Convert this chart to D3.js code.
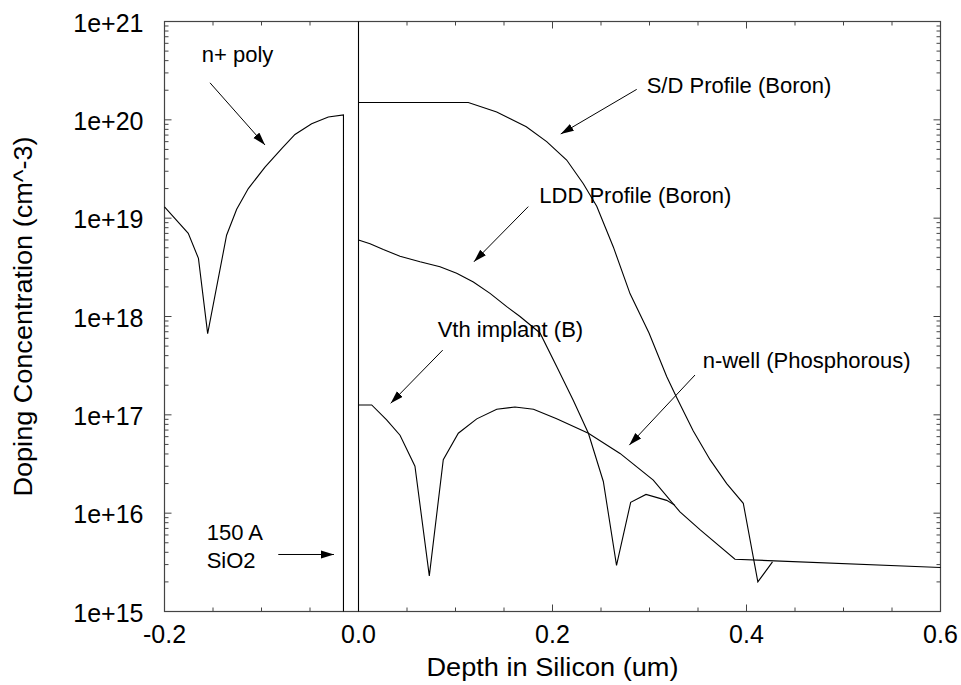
<!DOCTYPE html>
<html><head><meta charset="utf-8">
<script src="https://cdn.jsdelivr.net/npm/d3@7"></script>
<style>body{margin:0;background:#fff}svg{display:block}</style>
</head><body>
<svg id="chart" width="961" height="685"></svg>
<script>
// ---------- data ----------
const polyDepth = [-0.200, -0.1755, -0.165, -0.1555, -0.136, -0.1256, -0.1136, -0.0964, -0.0792, -0.0655, -0.0483, -0.0311, -0.0155, -0.0155];
const polyConc  = [1.3e19, 7.0e18, 3.9e18, 6.7e17, 6.7e18, 1.23e19, 2.0e19, 3.3e19, 5.1e19, 7.1e19, 9.1e19, 1.07e20, 1.12e20, 1e15];

const interfaceDepth = [0, 0];
const interfaceConc  = [1e15, 1e21];

const sdDepth = [0, 0.1132, 0.1425, 0.173, 0.194, 0.2146, 0.2318, 0.2456, 0.2627, 0.280, 0.2995, 0.3177, 0.328, 0.345, 0.3624, 0.3796, 0.3967, 0.4117, 0.4268];
const sdConc  = [1.5e20, 1.5e20, 1.2e20, 8.5e19, 6.0e19, 3.9e19, 2.24e19, 1.32e19, 5.1e18, 1.7e18, 6.8e17, 2.45e17, 1.5e17, 6.9e16, 3.5e16, 2.0e16, 1.26e16, 2.0e15, 3.2e15];

const lddDepth = [0, 0.0119, 0.0256, 0.0428, 0.0634, 0.084, 0.1012, 0.1184, 0.1356, 0.1528, 0.1665, 0.1871, 0.2043, 0.2215, 0.237, 0.2524, 0.266, 0.2806, 0.2964, 0.3177, 0.3263];
const lddConc  = [6.0e18, 5.5e18, 4.8e18, 4.1e18, 3.6e18, 3.2e18, 2.75e18, 2.24e18, 1.72e18, 1.26e18, 1.0e18, 6.8e17, 3.1e17, 1.4e17, 6.5e16, 2.1e16, 2.95e15, 1.29e16, 1.55e16, 1.35e16, 1.2e16];

const wellDepth = [0, 0.0136, 0.029, 0.0428, 0.0582, 0.073, 0.0874, 0.1029, 0.1219, 0.1425, 0.1613, 0.1804, 0.2043, 0.237, 0.2696, 0.3039, 0.3314, 0.352, 0.3881, 0.600];
const wellConc  = [1.26e17, 1.26e17, 8.9e16, 6.2e16, 3.0e16, 2.3e15, 3.5e16, 6.5e16, 9.1e16, 1.14e17, 1.2e17, 1.14e17, 9.1e16, 6.5e16, 4.05e16, 2.17e16, 1.03e16, 6.8e15, 3.4e15, 2.8e15];

const xTickValues = [-0.2, 0.0, 0.2, 0.4, 0.6];
const xTickLabels = ["-0.2", "0.0", "0.2", "0.4", "0.6"];
const yTickValues = [1e15, 1e16, 1e17, 1e18, 1e19, 1e20, 1e21];
const yTickLabels = ["1e+15", "1e+16", "1e+17", "1e+18", "1e+19", "1e+20", "1e+21"];

const xTitle = "Depth in Silicon (um)";
const yTitle = "Doping Concentration (cm^-3)";

// annotations: text lines at (depth, conc), arrow from -> to in data coords
const annotations = [
  {lines: ["n+ poly"], x: -0.1616, y: 3.9e20, ax1: -0.1531, ay1: 2.38e20, ax2: -0.0964, ay2: 5.55e19},
  {lines: ["150 A", "SiO2"], x: -0.1565, y: 5.3e15, ax1: -0.0827, ay1: 3.8e15, ax2: -0.0253, ay2: 3.8e15},
  {lines: ["S/D Profile (Boron)"], x: 0.2971, y: 1.89e20, ax1: 0.2868, ay1: 2.04e20, ax2: 0.2085, ay2: 7.18e19},
  {lines: ["LDD Profile (Boron)"], x: 0.1864, y: 1.44e19, ax1: 0.175, ay1: 1.31e19, ax2: 0.119, ay2: 3.6e18},
  {lines: ["Vth implant (B)"], x: 0.0816, y: 6.2e17, ax1: 0.0868, ay1: 4.55e17, ax2: 0.0332, ay2: 1.31e17},
  {lines: ["n-well (Phosphorous)"], x: 0.3548, y: 2.97e17, ax1: 0.3469, ay1: 2.54e17, ax2: 0.2792, ay2: 4.92e16}
];

// ---------- layout ----------
const padL = 164.5, padR = 940.5, padT = 21.5, padB = 611.5;
const font = "'Liberation Sans', Arial, Helvetica, sans-serif";

const svg = d3.select("#chart");
const x = d3.scaleLinear().domain([-0.2, 0.6]).range([padL, padR]);
const y = d3.scaleLog().domain([1e15, 1e21]).range([padB, padT]);

// arrow marker
svg.append("defs").append("marker")
  .attr("id", "arrow").attr("markerUnits", "userSpaceOnUse")
  .attr("markerWidth", 14).attr("markerHeight", 10)
  .attr("refX", 13).attr("refY", 4).attr("orient", "auto")
  .append("path").attr("d", "M0,0 L13,4 L0,8 Z").attr("fill", "#000");

// frame
const axisColor = "#444";
svg.append("rect").attr("x", padL).attr("y", padT).attr("width", padR - padL).attr("height", padB - padT)
  .attr("fill", "none").attr("stroke", axisColor).attr("stroke-width", 1.2);

// ticks (inward on all sides)
const xMinor = d3.range(0, 17).map(i => +(-0.2 + i * 0.05).toFixed(2));
const majLen = 7, minLen = 4;
const tickG = svg.append("g").attr("stroke", axisColor).attr("stroke-width", 1);
xMinor.forEach(v => {
  const isMaj = xTickValues.some(t => Math.abs(t - v) < 1e-9);
  const L = isMaj ? majLen : minLen;
  tickG.append("line").attr("x1", x(v)).attr("x2", x(v)).attr("y1", padB).attr("y2", padB - L);
  tickG.append("line").attr("x1", x(v)).attr("x2", x(v)).attr("y1", padT).attr("y2", padT + L);
});
const yAll = [];
for (let e = 15; e < 21; e++) for (let m = 1; m < 10; m++) yAll.push(m * Math.pow(10, e));
yAll.push(1e21);
yAll.forEach(v => {
  const isMaj = Math.abs(Math.log10(v) - Math.round(Math.log10(v))) < 1e-9;
  const L = isMaj ? majLen : minLen;
  tickG.append("line").attr("x1", padL).attr("x2", padL + L).attr("y1", y(v)).attr("y2", y(v));
  tickG.append("line").attr("x1", padR).attr("x2", padR - L).attr("y1", y(v)).attr("y2", y(v));
});

// tick labels
svg.append("g").selectAll("text").data(xTickValues).join("text")
  .attr("x", d => x(d)).attr("y", padB + 31)
  .attr("text-anchor", "middle").attr("font-family", font).attr("font-size", 25).attr("fill", "#000")
  .text((d, i) => xTickLabels[i]);
svg.append("g").selectAll("text").data(yTickValues).join("text")
  .attr("x", padL - 21).attr("y", d => y(d)).attr("dy", "0.4em")
  .attr("text-anchor", "end").attr("font-family", font).attr("font-size", 25).attr("fill", "#000")
  .text((d, i) => yTickLabels[i]);

// axis titles
svg.append("text").attr("x", (padL + padR) / 2).attr("y", 676)
  .attr("text-anchor", "middle").attr("font-family", font).attr("font-size", 25).attr("fill", "#000")
  .attr("textLength", 252).attr("lengthAdjust", "spacingAndGlyphs")
  .text(xTitle);
svg.append("text").attr("transform", `translate(31.5,${(padT + padB) / 2}) rotate(-90)`)
  .attr("text-anchor", "middle").attr("font-family", font).attr("font-size", 25).attr("fill", "#000")
  .attr("textLength", 360).attr("lengthAdjust", "spacingAndGlyphs")
  .text(yTitle);

// curves
const line = d3.line().x(d => x(d[0])).y(d => y(d[1]));
const series = [
  [polyDepth, polyConc],
  [interfaceDepth, interfaceConc],
  [sdDepth, sdConc],
  [lddDepth, lddConc],
  [wellDepth, wellConc]
];
svg.append("g").selectAll("path").data(series).join("path")
  .attr("d", s => line(s[0].map((d, i) => [d, s[1][i]])))
  .attr("fill", "none").attr("stroke", "#000").attr("stroke-width", 1.1);

// annotations
const ag = svg.append("g");
annotations.forEach(a => {
  a.lines.forEach((t, i) => {
    ag.append("text").attr("x", x(a.x)).attr("y", y(a.y) + i * 27.7)
      .attr("font-family", font).attr("font-size", 22).attr("fill", "#000").text(t);
  });
  ag.append("line").attr("x1", x(a.ax1)).attr("y1", y(a.ay1)).attr("x2", x(a.ax2)).attr("y2", y(a.ay2))
    .attr("stroke", "#000").attr("stroke-width", 1).attr("marker-end", "url(#arrow)");
});
</script>
</body></html>
